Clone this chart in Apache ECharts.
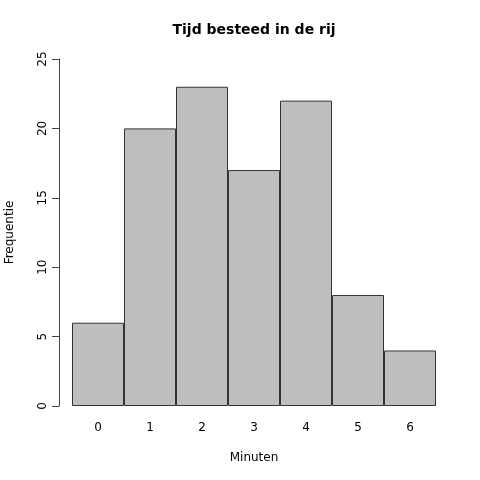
<!DOCTYPE html>
<html>
<head>
<meta charset="utf-8">
<script src="https://cdn.jsdelivr.net/npm/echarts@6/dist/echarts.min.js"></script>
<style>
  html, body { margin: 0; padding: 0; background: #fff; }
  #chart { width: 480px; height: 480px; }
</style>
</head>
<body>
<div id="chart"></div>
<script>
const minutes = ['0', '1', '2', '3', '4', '5', '6'];
const counts = [6, 20, 23, 17, 22, 8, 4];
const titleText = 'Tijd besteed in de rij';
const xLabel = 'Minuten';
const yLabel = 'Frequentie';

const chart = echarts.init(document.getElementById('chart'));
const font = 'DejaVu Sans';

chart.setOption({
  animation: false,
  textStyle: { fontFamily: font },
  graphic: [{
    type: 'text',
    x: 254,
    y: 30,
    style: {
      text: titleText,
      textAlign: 'center',
      textVerticalAlign: 'middle',
      font: 'bold 14px "DejaVu Sans"',
      fill: '#000'
    }
  }],
  grid: { left: 72, right: 44, top: 59, bottom: 74, outerBoundsMode: 'none' },
  xAxis: {
    type: 'category',
    data: minutes,
    name: xLabel,
    nameLocation: 'middle',
    nameGap: 46,
    nameTextStyle: { fontSize: 12, color: '#000', fontFamily: font },
    axisLine: { show: false },
    axisTick: { show: false },
    axisLabel: { margin: 16, fontSize: 12, color: '#000', fontFamily: font }
  },
  yAxis: {
    type: 'value',
    min: 0,
    max: 25,
    interval: 5,
    offset: 13,
    name: yLabel,
    nameLocation: 'middle',
    nameGap: 43,
    nameRotate: 90,
    nameTextStyle: { fontSize: 12, color: '#000', fontFamily: font },
    splitLine: { show: false },
    axisLine: { show: true, lineStyle: { color: '#444', width: 1 } },
    axisTick: { show: true, length: 7, lineStyle: { color: '#444' } },
    axisLabel: { rotate: 90, margin: 10, fontSize: 12, color: '#000', fontFamily: font }
  },
  series: [{
    type: 'bar',
    data: counts,
    barWidth: 52,
    barCategoryGap: '0%',
    itemStyle: { color: '#bebebe', borderColor: '#333', borderWidth: 1 }
  }]
});
</script>
</body>
</html>
